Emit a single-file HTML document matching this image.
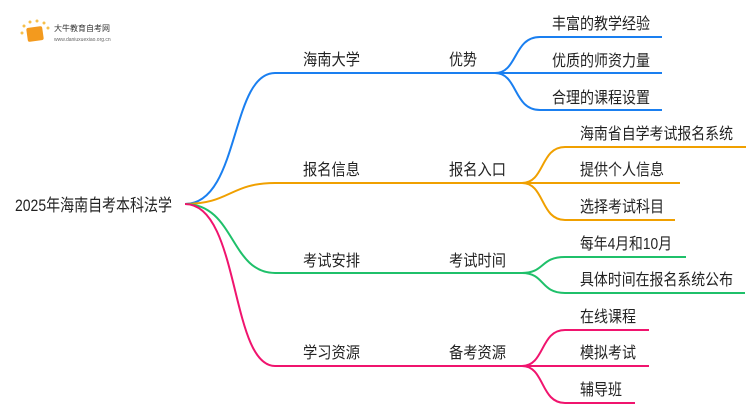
<!DOCTYPE html>
<html><head><meta charset="utf-8"><style>
body{margin:0;width:750px;height:410px;background:#fff;overflow:hidden;font-family:"Liberation Sans","Noto Sans CJK SC",sans-serif;}
svg text{font-family:"Liberation Sans","Noto Sans CJK SC",sans-serif;fill:#222;font-size:16px;}
</style></head><body>
<svg width="750" height="410" viewBox="0 0 750 410">
<g fill="none" stroke-width="2">
<path d="M185 204 C240 204 230 73 275 73 L495 73" stroke="#1a7ff0"/>
<path d="M495 73 C518 73 513 37 540 37 L662 37 M495 73 L662 73 M495 73 C518 73 513 110 540 110 L662 110" stroke="#1a7ff0"/>
<path d="M185 204 C230 204 230 183 275 183 L522 183" stroke="#f0a000"/>
<path d="M522 183 C545 183 540 147 565 147 L746 147 M522 183 L680 183 M522 183 C545 183 540 220 565 220 L675 220" stroke="#f0a000"/>
<path d="M185 204 C235 204 230 273 275 273 L522 273" stroke="#1fc06a"/>
<path d="M522 273 C545 273 540 257 565 257 L686 257 M522 273 C545 273 540 293 565 293 L745 293" stroke="#1fc06a"/>
<path d="M185 204 C240 204 230 366 275 366 L522 366" stroke="#f0146e"/>
<path d="M522 366 C545 366 540 330 565 330 L649 330 M522 366 L649 366 M522 366 C545 366 540 403 565 403 L635 403" stroke="#f0146e"/>
</g>
<g lengthAdjust="spacingAndGlyphs">
<text x="15" y="211" style="font-size:17px" textLength="157" lengthAdjust="spacingAndGlyphs">2025年海南自考本科法学</text>
<text x="303" y="65" textLength="57" lengthAdjust="spacingAndGlyphs">海南大学</text><text x="449" y="65" textLength="28" lengthAdjust="spacingAndGlyphs">优势</text>
<text x="303" y="175" textLength="57" lengthAdjust="spacingAndGlyphs">报名信息</text><text x="449" y="175" textLength="57" lengthAdjust="spacingAndGlyphs">报名入口</text>
<text x="303" y="266" textLength="57" lengthAdjust="spacingAndGlyphs">考试安排</text><text x="449" y="266" textLength="57" lengthAdjust="spacingAndGlyphs">考试时间</text>
<text x="303" y="358" textLength="57" lengthAdjust="spacingAndGlyphs">学习资源</text><text x="449" y="358" textLength="57" lengthAdjust="spacingAndGlyphs">备考资源</text>
<text x="552" y="29" textLength="98" lengthAdjust="spacingAndGlyphs">丰富的教学经验</text>
<text x="552" y="66" textLength="98" lengthAdjust="spacingAndGlyphs">优质的师资力量</text>
<text x="552" y="103" textLength="98" lengthAdjust="spacingAndGlyphs">合理的课程设置</text>
<text x="580" y="139" textLength="153" lengthAdjust="spacingAndGlyphs">海南省自学考试报名系统</text>
<text x="580" y="175" textLength="84" lengthAdjust="spacingAndGlyphs">提供个人信息</text>
<text x="580" y="212" textLength="84" lengthAdjust="spacingAndGlyphs">选择考试科目</text>
<text x="580" y="249" textLength="92" lengthAdjust="spacingAndGlyphs">每年4月和10月</text>
<text x="580" y="285" textLength="153" lengthAdjust="spacingAndGlyphs">具体时间在报名系统公布</text>
<text x="580" y="322" textLength="56" lengthAdjust="spacingAndGlyphs">在线课程</text>
<text x="580" y="358" textLength="56" lengthAdjust="spacingAndGlyphs">模拟考试</text>
<text x="580" y="395" textLength="42" lengthAdjust="spacingAndGlyphs">辅导班</text>
</g>
<g>
<rect x="27" y="27" width="16" height="14" rx="2" fill="#f39a1e" transform="rotate(-8 35 34)"/>
<circle cx="24" cy="26" r="1.5" fill="#f7c04a"/><circle cx="30" cy="22" r="1.5" fill="#f7c04a"/><circle cx="37" cy="21" r="1.5" fill="#f7c04a"/><circle cx="44" cy="23" r="1.5" fill="#f7c04a"/><circle cx="48" cy="28" r="1.5" fill="#f7c04a"/><circle cx="22" cy="33" r="1.5" fill="#f7c04a"/>
<text x="54" y="31" style="font-size:8px;fill:#333">大牛教育自考网</text>
<text x="54" y="41" style="font-size:5px;fill:#666">www.daniuxuexiao.org.cn</text>
</g>
</svg>
</body></html>
